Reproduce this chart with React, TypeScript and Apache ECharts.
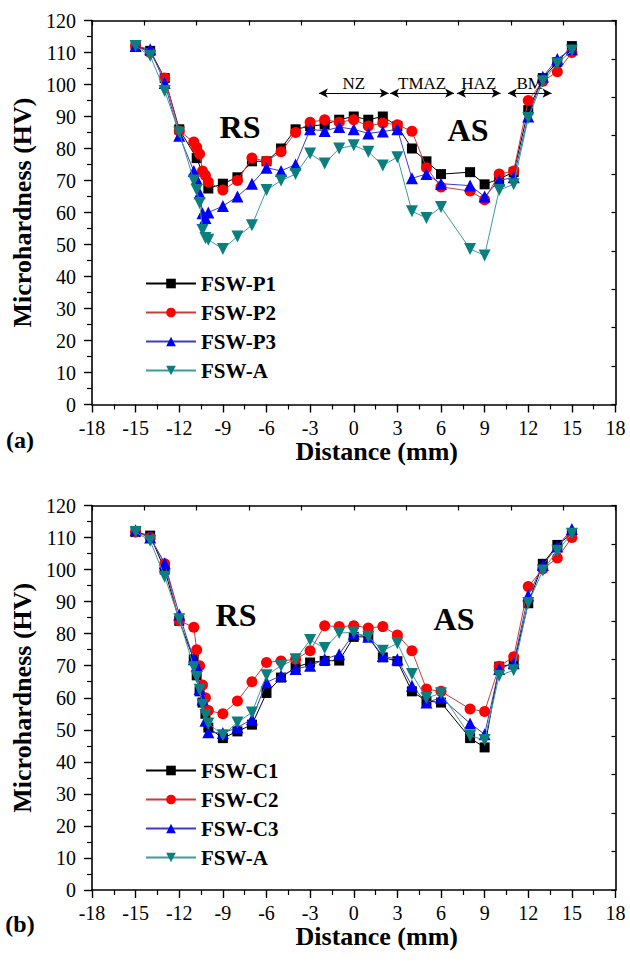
import React, { useEffect, useRef } from 'react';
import * as echarts from 'echarts';

const SERIF = '"Liberation Serif", "Times New Roman", serif';

// x positions (mm)
const X = [-15, -14, -13, -12, -11, -10.8, -10.6, -10.4, -10.2, -10, -9, -8, -7, -6, -5, -4, -3, -2, -1, 0, 1, 2, 3, 4, 5, 6, 8, 9, 10, 11, 12, 13, 14, 15];
const X_P1 = [-15, -14, -13, -12, -10.8, -10, -9, -8, -7, -6, -5, -4, -3, -2, -1, 0, 1, 2, 3, 4, 5, 6, 8, 9, 10, 11, 12, 13, 14, 15];

// (a) panel
const P1 = [112, 110.5, 102, 86, 77, 67.5, 69, 71, 76, 76, 80, 86, 87, 87.5, 89, 90, 89, 90, 87, 80, 76, 72, 72.6, 68.8, 70.5, 72.6, 92, 102, 107, 112];
const P2 = [112, 110, 102, 85.5, 82, 80.4, 78.3, 73, 71.6, 69.5, 67, 70, 77, 76, 79, 85, 88.2, 89, 88.2, 89, 87, 88, 87.4, 85.4, 74, 68, 66.7, 64, 72, 73, 95, 101, 104, 110];
const P3 = [112, 111, 100.5, 84, 73, 70.5, 66, 59.8, 58.3, 60, 62, 65, 69, 74, 73, 75, 86, 85.5, 86.7, 86, 84.7, 85.3, 86, 70.7, 72, 69, 68.4, 65, 70, 71, 90, 102.4, 108, 111];
const A_TOP = [112, 109, 98, 85, 70, 67, 63, 54.5, 52, 51.5, 48.6, 52.5, 56, 67, 70, 72, 78.4, 75.3, 80, 81, 79, 74.7, 77.3, 60.4, 58.3, 61.7, 48.6, 46.6, 67, 68.8, 89.5, 101, 106.6, 110.6];

// (b) panel
const C1 = [111.7, 110.6, 100, 84, 72, 67, 62, 58.5, 55, 50.7, 47.4, 49.5, 51.6, 61.5, 66.3, 69.5, 71, 71.5, 71.6, 79, 79, 72.6, 71.4, 62, 59, 58.5, 47.4, 44.5, 69.7, 70.5, 89.5, 101.8, 107.7, 111.2];
const C2 = [111.7, 110, 101.8, 84, 82, 75, 70, 64, 60, 56, 55, 59, 65, 71, 71.5, 72, 74.7, 82.5, 82.2, 82.5, 81.8, 82.2, 79.6, 74.7, 62.7, 62, 56.5, 55.7, 69.8, 72.8, 94.7, 100.2, 103.6, 110];
const C3 = [112.3, 110, 102, 86, 72, 70, 62.7, 59.5, 52.8, 49.2, 49, 50.7, 53.3, 64.8, 66.9, 69, 70, 72, 73.6, 80, 79, 73, 72, 63.75, 58.5, 60, 52, 48.6, 69, 70.8, 91.9, 101.4, 107.2, 112.7];
const A_BOT = [111.7, 109, 97.8, 84.5, 69.5, 66.5, 62.5, 57.8, 54.5, 52, 48.3, 52.3, 55.4, 67, 70, 72, 78, 75.5, 80.2, 80.4, 79, 74.7, 77, 67.4, 59.9, 61.4, 48.1, 46.8, 66.9, 68.6, 89.6, 99.7, 105.9, 111.2];

const ZONES = ['NZ', 'TMAZ', 'HAZ', 'BM'];
const ZONE_FROM = [-2.4, 2.5, 7.1, 10.6];
const ZONE_TO = [2.4, 6.9, 10.1, 13.6];
const ZONE_Y = 97.3;

const X_TICKS_MIN = -18;
const X_TICKS_MAX = 18;
const Y_MIN = 0;
const Y_MAX = 120;

const LEGEND_TOP = ['FSW-P1', 'FSW-P2', 'FSW-P3', 'FSW-A'];
const LEGEND_BOT = ['FSW-C1', 'FSW-C2', 'FSW-C3', 'FSW-A'];

const STYLES = [
  { symbol: 'rect', size: 10, marker: '#000000', line: '#000000', rotate: 0 },
  { symbol: 'circle', size: 11, marker: '#ff0000', line: '#c83c3c', rotate: 0 },
  { symbol: 'triangle', size: 12, marker: '#0000ff', line: '#3c3cc8', rotate: 0 },
  { symbol: 'triangle', size: 12, marker: '#0b7f7f', line: '#3c9c9c', rotate: 180 },
];

function pairs(xs: number[], ys: number[]) {
  return xs.map((x, i) => [x, ys[i]]);
}

function App() {
  const ref = useRef<HTMLDivElement>(null);
  useEffect(() => {
    const chart = echarts.init(ref.current!, null, { renderer: 'svg' });
    const grids = [
      { left: 92, top: 20.5, width: 523.5, height: 384 },
      { left: 92, top: 505.5, width: 523.5, height: 384.5 },
    ];
    const xAxes: any[] = [];
    const yAxes: any[] = [];
    [0, 1].forEach((g) => {
      xAxes.push({
        gridIndex: g, type: 'value', position: 'bottom', min: X_TICKS_MIN, max: X_TICKS_MAX, interval: 3,
        axisLine: { show: true, onZero: false, lineStyle: { color: '#000', width: 1.6 } },
        axisTick: { show: true, inside: false, length: 8, lineStyle: { color: '#000', width: 1.4 } },
        minorTick: { show: true, splitNumber: 2, length: 5, lineStyle: { color: '#000', width: 1.2 } },
        splitLine: { show: false },
        axisLabel: { fontFamily: SERIF, fontSize: 20, color: '#000', margin: 13 },
        name: 'Distance (mm)', nameLocation: 'middle', nameGap: 25,
        nameTextStyle: { fontFamily: SERIF, fontSize: 26, fontWeight: 'bold', color: '#000', padding: [0, 0, 0, 46] },
      });
      xAxes.push({
        gridIndex: g, type: 'value', position: 'top', min: 0, max: 10, interval: 1,
        axisLine: { show: true, onZero: false, lineStyle: { color: '#000', width: 1.6 } },
        axisTick: { show: true, inside: true, length: 5, lineStyle: { color: '#000', width: 1.2 } },
        axisLabel: { show: false }, splitLine: { show: false },
      });
      yAxes.push({
        gridIndex: g, type: 'value', position: 'left', min: Y_MIN, max: Y_MAX, interval: 10,
        axisLine: { show: true, onZero: false, lineStyle: { color: '#000', width: 1.6 } },
        axisTick: { show: true, inside: false, length: 8, lineStyle: { color: '#000', width: 1.4 } },
        minorTick: { show: true, splitNumber: 2, length: 5, lineStyle: { color: '#000', width: 1.2 } },
        splitLine: { show: false },
        axisLabel: { fontFamily: SERIF, fontSize: 20, color: '#000', margin: 16 },
        name: 'Microhardness (HV)', nameLocation: 'middle', nameGap: 57,
        nameTextStyle: { fontFamily: SERIF, fontSize: 26, fontWeight: 'bold', color: '#000' },
      });
      yAxes.push({
        gridIndex: g, type: 'value', position: 'right', min: 0, max: 10, interval: 1,
        axisLine: { show: true, onZero: false, lineStyle: { color: '#000', width: 1.6 } },
        axisTick: { show: true, inside: true, length: 4, lineStyle: { color: '#000', width: 1.2 } },
        axisLabel: { show: false }, splitLine: { show: false },
      });
    });

    const mk = (name: string, xs: number[], ys: number[], s: number, g: number) => ({
      type: 'line', name, xAxisIndex: g * 2, yAxisIndex: g * 2,
      data: pairs(xs, ys),
      symbol: STYLES[s].symbol, symbolSize: STYLES[s].size, symbolRotate: STYLES[s].rotate,
      showAllSymbol: true,
      lineStyle: { color: STYLES[s].line, width: 1 },
      itemStyle: { color: STYLES[s].marker, borderWidth: 0 },
      emphasis: { disabled: true },
      z: 2 + s,
    });

    const series: any[] = [
      mk('FSW-P1', X_P1, P1, 0, 0),
      mk('FSW-P2', X, P2, 1, 0),
      mk('FSW-P3', X, P3, 2, 0),
      mk('FSW-A', X, A_TOP, 3, 0),
      mk('FSW-C1', X, C1, 0, 1),
      mk('FSW-C2', X, C2, 1, 1),
      mk('FSW-C3', X, C3, 2, 1),
      mk('FSW-A', X, A_BOT, 3, 1),
      {
        type: 'line', name: 'zones', xAxisIndex: 0, yAxisIndex: 0, data: [], silent: true,
        markLine: {
          silent: true, animation: false,
          symbol: ['arrow', 'arrow'], symbolSize: [7, 9],
          lineStyle: { color: '#000', width: 1, type: 'solid' },
          label: { show: true, position: 'insideMiddleTop', distance: 1, formatter: '{b}', fontFamily: SERIF, fontSize: 17, color: '#000' },
          emphasis: { disabled: true },
          data: ZONES.map((z, i) => [
            { name: z, coord: [ZONE_FROM[i], ZONE_Y] },
            { coord: [ZONE_TO[i], ZONE_Y] },
          ]),
        },
      },
    ];

    const legendBase = {
      orient: 'vertical', left: 140, itemWidth: 50, itemHeight: 12, itemGap: 8,
      textStyle: { fontFamily: SERIF, fontSize: 21, fontWeight: 'bold', color: '#000', lineHeight: 20 },
      selectedMode: false,
    };

    const txt = (text: string, x: number, y: number, size: number) => ({
      type: 'text', x, y,
      style: { text, fontFamily: SERIF, fontSize: size, fontWeight: 'bold', fill: '#000', align: 'center', verticalAlign: 'middle' },
    });

    chart.setOption({
      animation: false,
      backgroundColor: '#fff',
      grid: grids,
      xAxis: xAxes,
      yAxis: yAxes,
      legend: [
        { ...legendBase, top: 268, data: LEGEND_TOP },
        { ...legendBase, top: 755, data: LEGEND_BOT },
      ],
      series,
      graphic: [
        txt('RS', 240, 127, 32),
        txt('AS', 468, 130, 32),
        txt('RS', 236, 615, 32),
        txt('AS', 454, 619, 32),
        txt('(a)', 20, 440, 24),
        txt('(b)', 20, 924, 24),
      ],
    });
    return () => chart.dispose();
  }, []);
  return <div ref={ref} style={{ position: 'absolute', left: 0, top: 0, width: 630, height: 962, background: '#fff' }} />;
}

export default App;
